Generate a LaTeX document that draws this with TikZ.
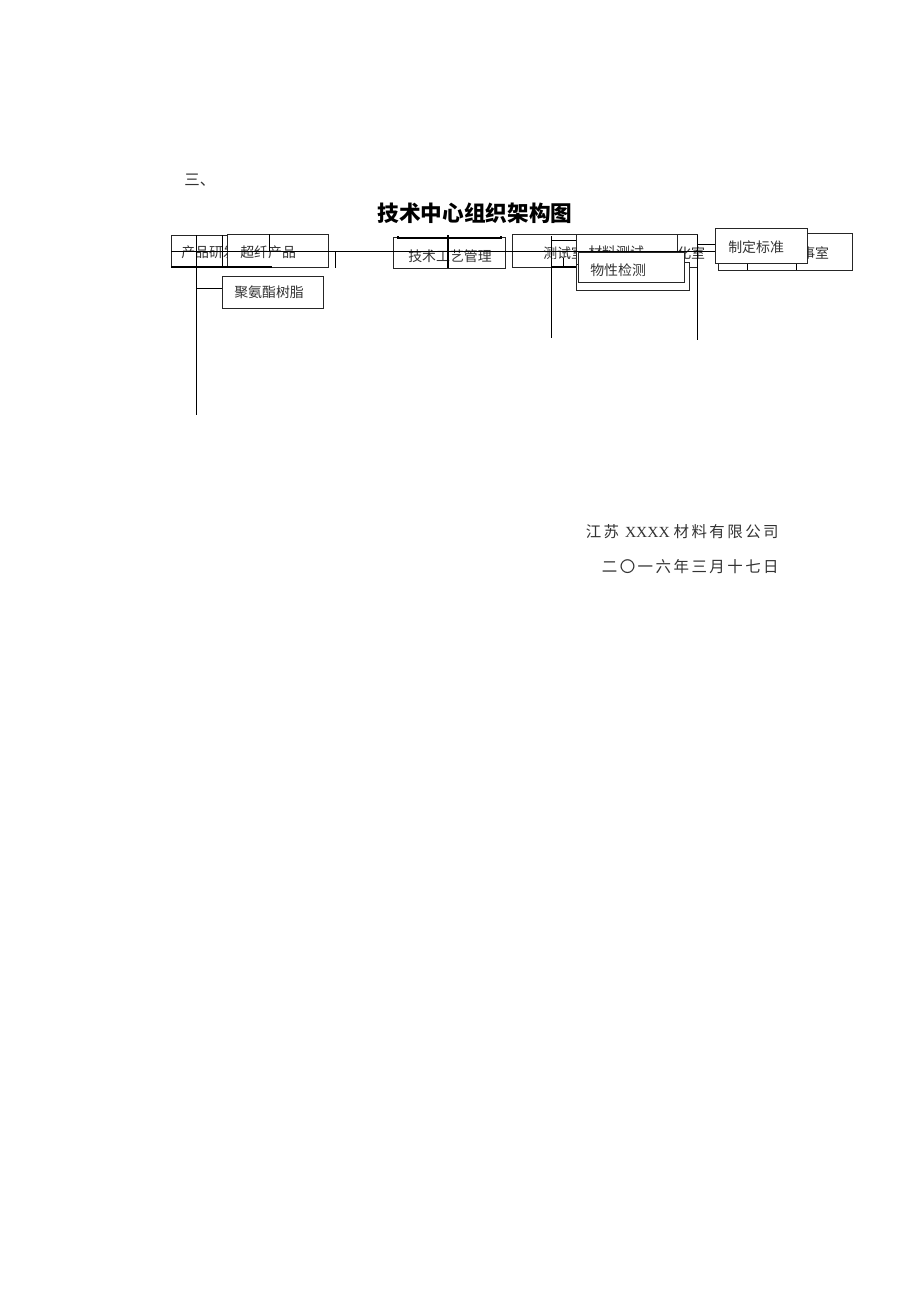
\documentclass[tikz,border=0pt]{standalone}
\usepackage{fontspec}
\setmainfont{Liberation Serif}
\newfontfamily\cjk{Noto Sans CJK SC}
\newfontfamily\cjkls[LetterSpace=16]{Noto Sans CJK SC}
\newdimen\px \px=0.647pt
\begin{document}
\begin{tikzpicture}[x=0.647pt,y=-0.647pt,
  box/.style={draw=black!85, fill=white, line width=0.6pt, inner sep=0pt, anchor=north west},
  lbl/.style={font=\cjk\fontsize{9}{9}\selectfont, inner sep=0pt, anchor=west, text=black!80},
  ln/.style={draw=black, line width=0.6pt}]
\useasboundingbox[fill=white] (0,0) rectangle (920,1302);

% heading
\node[font=\cjk\fontsize{10}{10}\selectfont, inner sep=0pt, anchor=west, text=black!80] (san) at (184,180) {三、};
\node[font=\cjk\bfseries\fontsize{14}{14}\selectfont, inner sep=0pt] (title) at (475,213) {技术中心组织架构图};

% left group
\node[box, minimum width=59\px, minimum height=32\px] (cpy) at (171,235) {};
\node[lbl] (cpyt) at (181,252) {产品研发};
\coordinate (tr0) at (196,235);
\coordinate (tr1) at (196,415);
\draw[ln] (tr0) -- (tr1);
\coordinate (v2a) at (222,235);
\coordinate (v2b) at (222,267);
\draw[ln] (v2a) -- (v2b);
\node[box, minimum width=101\px, minimum height=33\px] (cx) at (227,234) {};
\node[lbl] (cxt) at (240,252) {超纤产品};
\coordinate (v3a) at (269,234);
\coordinate (v3b) at (269,252);
\draw[ln] (v3a) -- (v3b);
\coordinate (bl0) at (171,267);
\coordinate (bl1) at (272,267);
\draw[ln, line width=0.9pt] (bl0) -- (bl1);
\coordinate (tk0) at (335,252);
\coordinate (tk1) at (335,268);
\draw[ln] (tk0) -- (tk1);
\node[box, minimum width=101\px, minimum height=32\px] (jaz) at (222,276) {};
\node[lbl] (jazt) at (234,292) {聚氨酯树脂};
\coordinate (br) at (196,288);
\draw[ln] (br) -- (br -| jaz.west);

% middle group
\node[box, minimum width=112\px, minimum height=31\px] (jsgy) at (393,237) {};
\draw[ln, line width=1.3pt] ([xshift=5\px,yshift=1\px]jsgy.north west) -- ++(0,-2\px) -- ([xshift=-5\px,yshift=-1\px]jsgy.north east) -- ++(0,2\px);
\node[lbl] (jsgyt) at (408,256) {技术工艺管理};
\coordinate (v4a) at (448,235);
\coordinate (v4b) at (448,268);
\draw[ln, line width=0.8pt] (v4a) -- (v4b);

% test group
\node[box, minimum width=185\px, minimum height=33\px] (csh) at (512,234) {};
\node[lbl] (csht) at (543,253) {测试室};
\node[lbl] (hs) at (677,253) {化室};
\coordinate (v5a) at (551,236);
\coordinate (v5b) at (551,338);
\draw[ln] (v5a) -- (v5b);
\coordinate (v6a) at (563,258);
\coordinate (v6b) at (563,268);
\draw[ln] (v6a) -- (v6b);
\coordinate (h6a) at (551,240);
\coordinate (h6b) at (576,240);
\draw[ln] (h6a) -- (h6b);
\coordinate (h7a) at (551,267);
\coordinate (h7b) at (576,267);
\draw[ln, line width=1pt] (h7a) -- (h7b);
\node[box, minimum width=113\px, minimum height=28\px] (outer) at (576,262) {};
\node[box, minimum width=101\px, minimum height=30\px] (clcs) at (576,234) {};
\node[lbl] (clcst) at (588,252) {材料测试};
\coordinate (v7a) at (697,235);
\coordinate (v7b) at (697,340);
\draw[ln] (v7a) -- (v7b);

% right group
\node[box, minimum width=134\px, minimum height=37\px] (bss) at (718,233) {};
\node[lbl] (bsst) at (801,253) {事室};
\coordinate (v8a) at (747,263);
\coordinate (v8b) at (747,270);
\draw[ln] (v8a) -- (v8b);
\coordinate (v9a) at (796,263);
\coordinate (v9b) at (796,270);
\draw[ln] (v9a) -- (v9b);

% main horizontal line
\coordinate (hl0) at (171,251);
\coordinate (hl1) at (715,251);
\draw[ln] (hl0) -- (hl1);
\coordinate (hs0) at (697,244);
\coordinate (hs1) at (715,244);
\draw[ln] (hs0) -- (hs1);

% top boxes
\node[box, minimum width=106\px, minimum height=30\px] (wxjc) at (578,252) {};
\node[lbl] (wxjct) at (590,270) {物性检测};
\node[box, minimum width=92\px, minimum height=35\px] (zdbz) at (715,228) {};
\node[lbl] (zdbzt) at (728,247) {制定标准};

% footer
\node[inner sep=0pt, anchor=east, text=black!80] (co) at (779,532)
  {\fontsize{10}{10}\selectfont\cjkls 江苏 \rmfamily XXXX \cjkls 材料有限公司};
\node[inner sep=0pt, anchor=east, text=black!80] (dt) at (779,567)
  {\fontsize{10}{10}\selectfont\cjkls 二〇一六年三月十七日};
\end{tikzpicture}
\end{document}
